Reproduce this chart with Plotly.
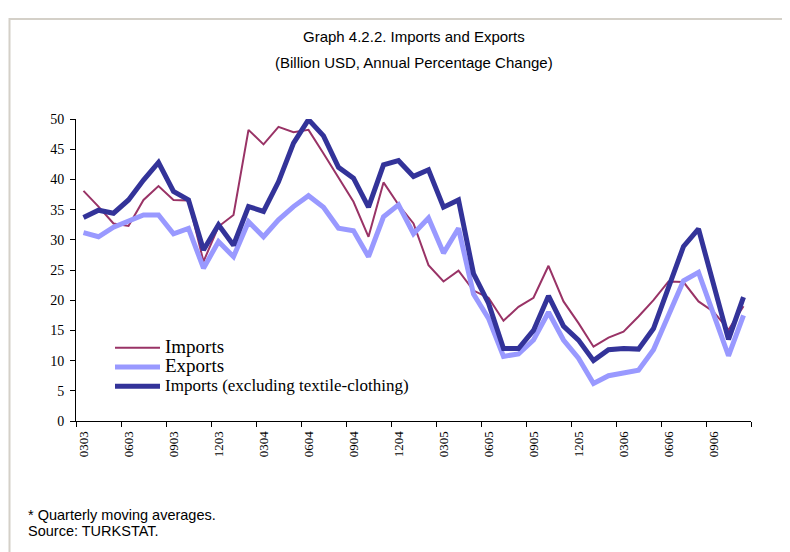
import plotly.graph_objects as go

# aylar (MMYY), Mart 2003 - Kasim 2006
meses = ["0303", "0403", "0503", "0603", "0703", "0803", "0903", "1003", "1103", "1203",
         "0104", "0204", "0304", "0404", "0504", "0604", "0704", "0804", "0904", "1004", "1104", "1204",
         "0105", "0205", "0305", "0405", "0505", "0605", "0705", "0805", "0905", "1005", "1105", "1205",
         "0106", "0206", "0306", "0406", "0506", "0606", "0706", "0806", "0906", "1006", "1106"]

imports = [38.1, 35.5, 32.7, 32.3, 36.6, 38.9, 36.6, 36.5, 26.4, 32.2,
           34.1, 48.2, 45.8, 48.7, 47.8, 48.2, 44.3, 40.2, 36.3, 30.5,
           39.5, 35.8, 32.7, 25.8, 23.1, 24.9, 21.6, 20.4, 16.6, 18.9,
           20.4, 25.7, 19.8, 16.2, 12.3, 13.8, 14.8, 17.3, 20.0, 23.1,
           23.0, 19.8, 18.1, 15.1, 19.0]

exports = [31.2, 30.5, 32.1, 33.0, 34.1, 34.1, 31.0, 31.9, 25.3, 29.7,
           27.2, 33.0, 30.5, 33.3, 35.5, 37.3, 35.4, 31.9, 31.5, 27.2,
           33.8, 35.8, 31.0, 33.6, 27.8, 31.9, 21.0, 17.0, 10.7, 11.1,
           13.4, 18.0, 13.4, 10.4, 6.2, 7.5, 8.0, 8.4, 11.8, 17.3,
           23.2, 24.6, 17.8, 10.8, 17.5]

imports_excl = [33.7, 34.9, 34.4, 36.6, 39.9, 42.8, 38.0, 36.6, 28.3, 32.5,
                29.1, 35.5, 34.7, 39.6, 46.0, 49.9, 47.2, 42.0, 40.2, 35.4,
                42.4, 43.1, 40.5, 41.6, 35.4, 36.6, 24.4, 19.5, 12.0, 12.0,
                15.0, 20.7, 15.7, 13.4, 10.0, 11.8, 12.0, 11.9, 15.3, 22.2,
                28.9, 31.8, 22.7, 13.5, 20.5]

# the page body has an 8px margin, so the figure starts at (8, 8)
OFF = 8
W, H = 790 - OFF, 552 - OFF
L, R, T, B = 76 - OFF, 39, 119 - OFF, 131

def px(x):
    return (x - OFF - L) / (W - L - R)

def py(y):
    return (H - B - (y - OFF)) / (H - T - B)

serif = "Liberation Serif, Times New Roman, serif"
sans = "Liberation Sans, Arial, sans-serif"

fig = go.Figure()
fig.add_trace(go.Scatter(x=meses, y=imports, mode='lines',
                         name='<span style="font-size:19px">Imports</span>',
                         line=dict(color='#993366', width=2)))
fig.add_trace(go.Scatter(x=meses, y=exports, mode='lines',
                         name='<span style="font-size:19px">Exports</span>',
                         line=dict(color='#9999FF', width=5)))
fig.add_trace(go.Scatter(x=meses, y=imports_excl, mode='lines',
                         name='<span style="font-size:17px">Imports (excluding textile-clothing)</span>',
                         line=dict(color='#333399', width=5)))

fig.update_layout(
    width=W, height=H,
    margin=dict(l=L, r=R, t=T, b=B),
    paper_bgcolor='white', plot_bgcolor='white',
    showlegend=True,
    legend=dict(x=px(110), y=py(333), xanchor='left', yanchor='top', itemwidth=45,
                font=dict(family=serif, size=12.5, color='black'),
                bgcolor='rgba(0,0,0,0)', tracegroupgap=0),
    xaxis=dict(type='category', range=[-0.5, 44.5], dtick=3, tickson='boundaries',
               ticks='outside', ticklen=5, tickcolor='black', tickangle=-90,
               ticklabelstandoff=4,
               showline=True, linecolor='black', linewidth=1, showgrid=False,
               tickfont=dict(family=serif, size=13, color='black')),
    yaxis=dict(range=[0, 50], dtick=5, ticks='outside', ticklen=5, tickcolor='black',
               ticklabelstandoff=3,
               showline=True, linecolor='black', linewidth=1, showgrid=False, zeroline=False,
               tickfont=dict(family=serif, size=14, color='black')),
    shapes=[dict(type='rect', xref='paper', yref='paper',
                 x0=px(9.5), x1=px(820), y0=py(19), y1=py(600),
                 line=dict(color='#d4d0c8', width=2), fillcolor='rgba(0,0,0,0)', layer='below')],
    annotations=[
        dict(text='Graph 4.2.2. Imports and Exports', xref='paper', yref='paper',
             x=0.5, y=py(37), xanchor='center', yanchor='middle', showarrow=False,
             font=dict(family=sans, size=15, color='black')),
        dict(text='(Billion USD, Annual Percentage Change)', xref='paper', yref='paper',
             x=0.5, y=py(63), xanchor='center', yanchor='middle', showarrow=False,
             font=dict(family=sans, size=15, color='black')),
        dict(text='* Quarterly moving averages.', xref='paper', yref='paper',
             x=px(26), y=py(515), xanchor='left', yanchor='middle', showarrow=False,
             font=dict(family=sans, size=14.5, color='black')),
        dict(text='Source: TURKSTAT.', xref='paper', yref='paper',
             x=px(26), y=py(531), xanchor='left', yanchor='middle', showarrow=False,
             font=dict(family=sans, size=14.5, color='black')),
    ],
)

fig.write_html("out.html")
